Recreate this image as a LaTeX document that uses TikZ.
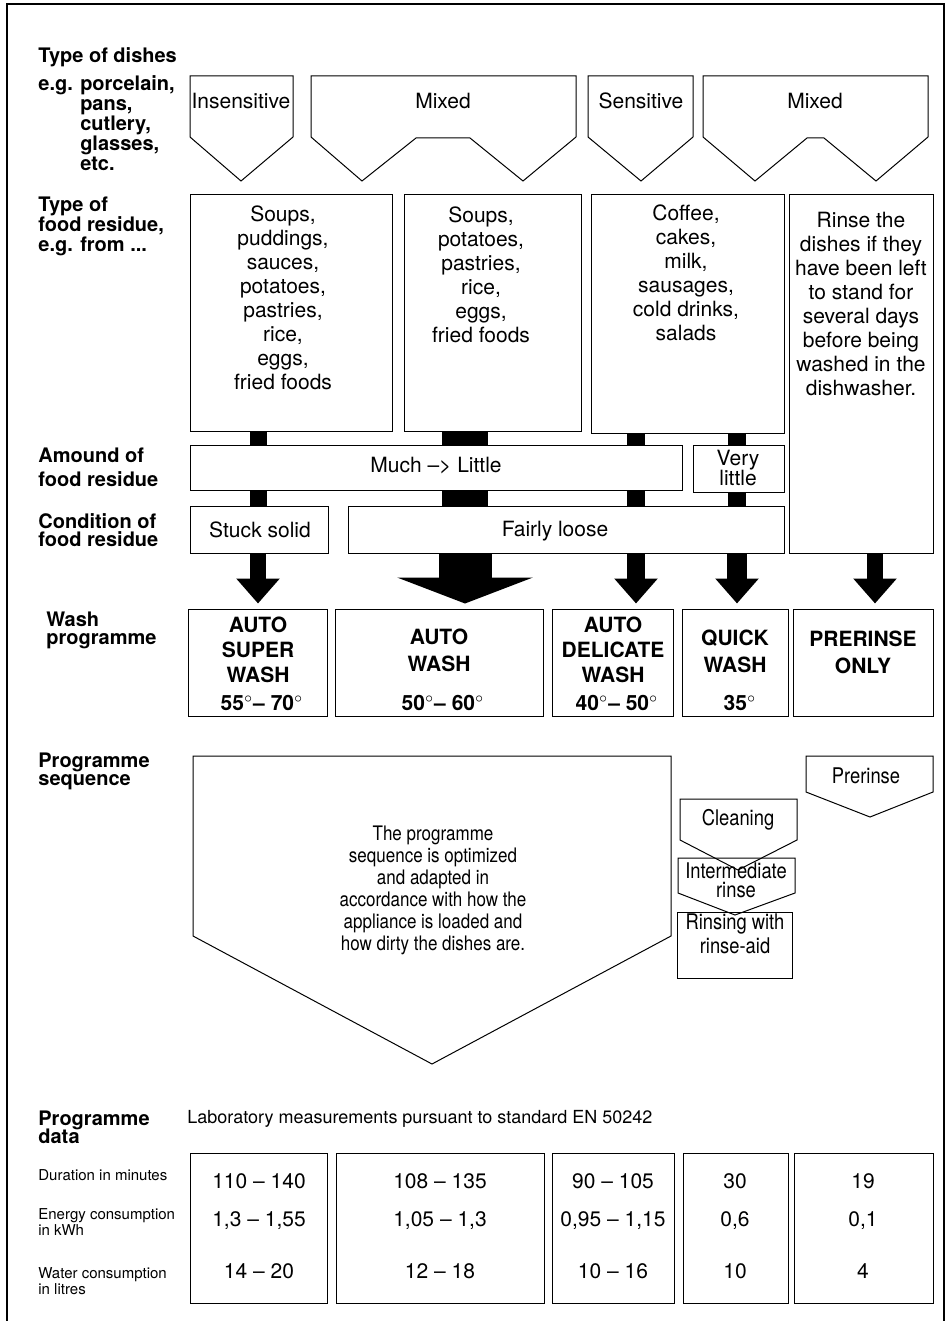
\documentclass[tikz,border=0pt]{standalone}
\usepackage{fontspec}
\setmainfont{TeX Gyre Heros}
\newfontfamily\narrowfont[FakeStretch=0.85]{TeX Gyre Heros}
\usetikzlibrary{arrows.meta,fit}

\tikzset{
  box/.style={draw, line width=0.5pt, inner sep=0pt},
  outline/.style={draw, line width=0.5pt, line join=miter},
  head/.style={font=\fontsize{10}{10}\selectfont\bfseries, align=left, inner sep=0pt, anchor=north west},
  body/.style={font=\fontsize{10.5}{12}\selectfont, align=center, inner sep=0pt},
  progname/.style={font=\fontsize{10.5}{12.5}\selectfont\bfseries, align=center, inner sep=0pt},
  seqtext/.style={font=\fontsize{10}{11}\selectfont\narrowfont, align=center, inner sep=0pt},
  steptext/.style={font=\fontsize{10.8}{9.6}\selectfont\narrowfont, align=center, inner sep=0pt},
  rowlbl/.style={font=\fontsize{7.5}{8}\selectfont, align=left, inner sep=0pt, anchor=west},
  datanum/.style={font=\fontsize{10.5}{12}\selectfont, inner sep=0pt},
  bar/.style={line width=#1},
  flow/.style={line width=#1, shorten >=2.5pt, -{Triangle[width=21pt,length=12.5pt]}},
  bigflow/.style={line width=26.5pt, shorten >=2.5pt, -{Triangle[width=67.5pt,length=13pt]}},
}

\begin{document}
\begin{tikzpicture}[x=0.5pt,y=-0.5pt]
\useasboundingbox (0,0) rectangle (949,1321);
% frame
\draw[line width=1.1pt] (7,1321) -- (7,4) -- (944,4) -- (944,1321);

% columns of the flow
\coordinate (colA) at (258,0);
\coordinate (colB) at (465,0);
\coordinate (colC) at (636,0);
\coordinate (colD) at (737,0);
\coordinate (colE) at (875,0);

% type of dishes
\node[head] (dishlbl) at (38,47) {Type of dishes};
\node[head] (dishlist) at (38,75) {e.g. porcelain,\\\phantom{e.g. }pans,\\\phantom{e.g. }cutlery,\\\phantom{e.g. }glasses,\\\phantom{e.g. }etc.};
\draw[outline] (190,76) -- (293,76) -- (293,137) -- (241,181) -- (190,137) -- cycle;
\draw[outline] (311,76) -- (576,76) -- (576,137) -- (523,181) -- (470,138) -- (416,138) -- (362,181) -- (311,137) -- cycle;
\draw[outline] (588,76) -- (693,76) -- (693,137) -- (641,181) -- (588,137) -- cycle;
\draw[outline] (703,76) -- (928,76) -- (928,137) -- (876,181) -- (824,138) -- (807,138) -- (755,181) -- (703,137) -- cycle;
\node[body] (insens) at (241,101) {Insensitive};
\node[body] (mixedA) at (443,101) {Mixed};
\node[body] (sens) at (641,101) {Sensitive};
\node[body] (mixedB) at (815,101) {Mixed};

% type of food residue
\node[head] (reslbl) at (38,197) {Type of\\food residue,\\e.g. from ...};
\node[box, fit={(190,195) (392,431)}] (res1) {};
\node[box, fit={(404,195) (581,431)}] (res2) {};
\node[box, fit={(591,195) (784,433)}] (res3) {};
\node[box, fit={(789,195) (933,553)}] (res4) {};
\node[body] (res1txt) at (283,298) {Soups,\\puddings,\\sauces,\\potatoes,\\pastries,\\rice,\\eggs,\\fried foods};
\node[body] (res2txt) at (481,275) {Soups,\\potatoes,\\pastries,\\rice,\\eggs,\\fried foods};
\node[body] (res3txt) at (686,273) {Coffee,\\cakes,\\milk,\\sausages,\\cold drinks,\\salads};
\node[body] (res4txt) at (861,304) {Rinse the\\dishes if they\\have been left\\to stand for\\several days\\before being\\washed in the\\dishwasher.};

% amount of food residue
\node[head] (amountlbl) at (38,448) {Amound of\\[2pt]food residue};
\node[box, fit={(190,445) (682,490)}] (much) {};
\node[body] (muchtxt) at (436,466) {Much –> Little};
\node[box, fit={(693,445) (784,492)}] (verylittle) {};
\node[body] (verytxt) at (738,468) {Very\\[-2pt]little};

% condition of food residue
\node[head] (condlbl) at (38,513) {Condition of\\[-1pt]food residue};
\node[box, fit={(190,506) (328,553)}] (stuck) {};
\node[body] (stucktxt) at (260,530) {Stuck solid};
\node[box, fit={(348,506) (784,553)}] (fairly) {};
\node[body] (fairlytxt) at (555,531) {Fairly loose};

% wash programme
\node[head] (washlbl) at (46,612) {Wash\\[-1pt]programme};
\node[box, fit={(188,609) (327,716)}] (progA) {};
\node[box, fit={(335,609) (543,716)}] (progB) {};
\node[box, fit={(552,609) (673,716)}] (progC) {};
\node[box, fit={(682,609) (788,716)}] (progD) {};
\node[box, fit={(793,609) (933,716)}] (progE) {};
\node[progname] (nameA) at (258,650) {AUTO\\SUPER\\WASH};
\node[progname] (nameB) at (439,650) {AUTO\\[1pt]WASH};
\node[progname] (nameC) at (613,650) {AUTO\\DELICATE\\WASH};
\node[progname] (nameD) at (735,651) {QUICK\\[1pt]WASH};
\node[progname] (nameE) at (863,652) {PRERINSE\\[1pt]ONLY};
\node[progname] (tempA) at (262,703) {55$^\circ$– 70$^\circ$};
\node[progname] (tempB) at (443,703) {50$^\circ$– 60$^\circ$};
\node[progname] (tempC) at (617,703) {40$^\circ$– 50$^\circ$};
\node[progname] (tempD) at (740,703) {35$^\circ$};

% connectors
\draw[bar=8.5pt] (res1.south -| colA) -- (much.north -| colA);
\draw[bar=8.5pt] (much.south -| colA) -- (stuck.north -| colA);
\draw[flow=8pt] (stuck.south -| colA) -- (progA.north -| colA);
\draw[bar=23pt] (res2.south -| colB) -- (much.north -| colB);
\draw[bar=23pt] (much.south -| colB) -- (fairly.north -| colB);
\draw[bigflow] (fairly.south -| colB) -- (progB.north -| colB);
\draw[bar=9pt] (res3.south -| colC) -- (much.north -| colC);
\draw[bar=9pt] (much.south -| colC) -- (fairly.north -| colC);
\draw[flow=9pt] (fairly.south -| colC) -- (progC.north -| colC);
\draw[bar=9pt] (res3.south -| colD) -- (verylittle.north -| colD);
\draw[bar=9pt] (verylittle.south -| colD) -- (fairly.north -| colD);
\draw[flow=10pt] (fairly.south -| colD) -- (progD.north -| colD);
\draw[flow=8pt] (res4.south -| colE) -- (progE.north -| colE);

% programme sequence
\node[head] (seqlbl) at (38,753) {Programme\\[-1pt]sequence};
\draw[outline] (193,756) -- (671,756) -- (671,936) -- (432,1064) -- (193,936) -- cycle;
\node[seqtext] (seqtxt) at (433,890) {The programme\\sequence is optimized\\and adapted in\\accordance with how the\\appliance is loaded and\\how dirty the dishes are.};
\draw[outline] (678,858) -- (795,858) -- (795,893) -- (735,915) -- (678,893) -- cycle;
\draw[outline] (680,799) -- (797,799) -- (797,840) -- (738,870) -- (680,840) -- cycle;
\node[box, fit={(677,912) (792,978)}] (rinseaid) {};
\node[steptext] (cleaning) at (738,820) {Cleaning};
\node[steptext] (interrinse) at (736,880) {Intermediate\\rinse};
\node[steptext] (rinsetxt) at (735,934) {Rinsing with\\[1pt]rinse-aid};
\draw[outline] (806,756) -- (933,756) -- (933,792) -- (870,817) -- (806,792) -- cycle;
\node[steptext] (prerinse) at (866,776) {Prerinse};

% programme data
\node[head] (datalbl) at (38,1111) {Programme\\[-1pt]data};
\node[anchor=base west, inner sep=0pt, font=\fontsize{9}{10}\selectfont] (labnote) at (187,1123) {Laboratory measurements pursuant to standard EN 50242};
\node[rowlbl] (durlbl) at (38,1175) {Duration in minutes};
\node[rowlbl] (enlbl) at (38,1222) {Energy consumption\\in kWh};
\node[rowlbl] (waterlbl) at (38,1281) {Water consumption\\in litres};
\node[box, fit={(190,1153) (327,1303)}] (dataA) {};
\node[box, fit={(336,1153) (544,1303)}] (dataB) {};
\node[box, fit={(552,1153) (674,1303)}] (dataC) {};
\node[box, fit={(683,1153) (788,1303)}] (dataD) {};
\node[box, fit={(794,1153) (933,1303)}] (dataE) {};
\node[datanum] (durA) at (259,1181) {110 – 140};
\node[datanum] (enA) at (259,1221) {1,3 – 1,55};
\node[datanum] (waterA) at (259,1271) {14 – 20};
\node[datanum] (durB) at (440,1181) {108 – 135};
\node[datanum] (enB) at (440,1221) {1,05 – 1,3};
\node[datanum] (waterB) at (440,1271) {12 – 18};
\node[datanum] (durC) at (613,1181) {90 – 105};
\node[datanum] (enC) at (613,1221) {0,95 – 1,15};
\node[datanum] (waterC) at (613,1271) {10 – 16};
\node[datanum] (durD) at (735,1181) {30};
\node[datanum] (enD) at (735,1221) {0,6};
\node[datanum] (waterD) at (735,1271) {10};
\node[datanum] (durE) at (863,1181) {19};
\node[datanum] (enE) at (863,1221) {0,1};
\node[datanum] (waterE) at (863,1271) {4};
\end{tikzpicture}
\end{document}
